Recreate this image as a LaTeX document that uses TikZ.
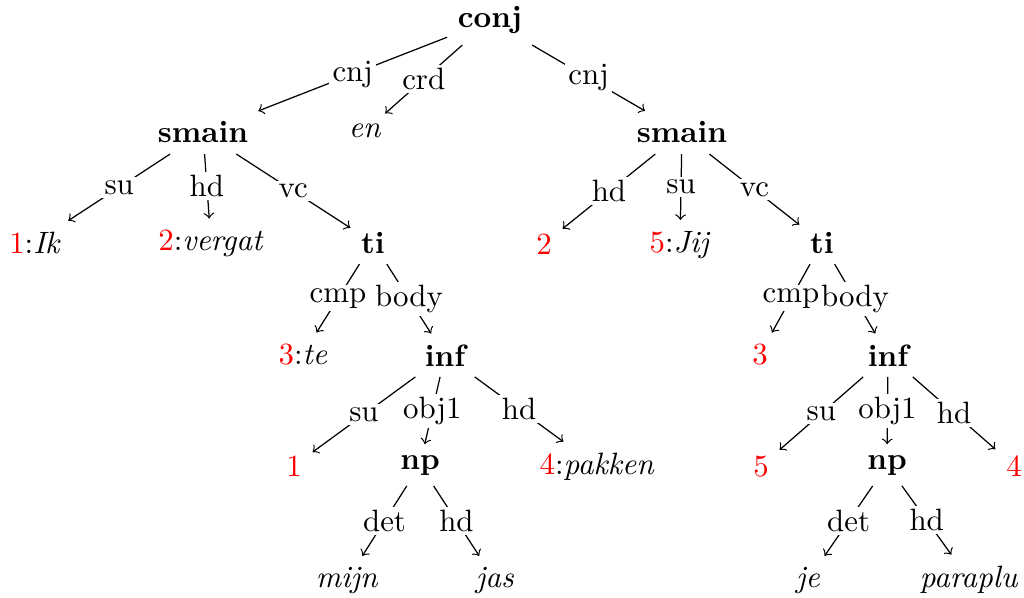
\documentclass[tikz,border=0pt]{standalone}
\usepackage{xcolor}
\begin{document}
\newcommand{\ix}[1]{\textcolor{red}{#1}}
\begin{tikzpicture}[
  x=0.324pt, y=-0.324pt,
  cat/.style={font=\bfseries, anchor=base},
  leaf/.style={anchor=base},
  lbl/.style={fill=white, inner sep=1pt, midway},
  dep/.style={->, line width=0.4pt}
]
\useasboundingbox (0,0) rectangle (1024,598);

% phrasal categories and words, placed on their baselines
\node[cat]  (conj)   at (490,28)  {conj};
\node[cat]  (smainL) at (203,143) {smain};
\node[leaf] (en)     at (365,138) {\textit{en}};
\node[cat]  (smainR) at (682,143) {smain};

\node[leaf] (ik)     at (35,253)  {\ix{1}:\textit{Ik}};
\node[leaf] (vergat) at (211,250) {\ix{2}:\textit{vergat}};
\node[cat]  (tiL)    at (373,253) {ti};

\node[leaf] (twoR)   at (544,254) {\ix{2}};
\node[leaf] (jij)    at (680,252) {\ix{5}:\textit{Jij}};
\node[cat]  (tiR)    at (822,253) {ti};

\node[leaf] (te)     at (303,364) {\ix{3}:\textit{te}};
\node[cat]  (infL)   at (445,366) {inf};
\node[leaf] (threeR) at (760,364) {\ix{3}};
\node[cat]  (infR)   at (888,366) {inf};

\node[leaf] (oneL)   at (294,476) {\ix{1}};
\node[cat]  (npL)    at (420,469) {np};
\node[leaf] (pakken) at (597,474) {\ix{4}:\textit{pakken}};
\node[leaf] (fiveR)  at (761,476) {\ix{5}};
\node[cat]  (npR)    at (887,469) {np};
\node[leaf] (fourR)  at (1014,476) {\ix{4}};

\node[leaf] (mijn)    at (347,587) {\textit{mijn}};
\node[leaf] (jas)     at (495,587) {\textit{jas}};
\node[leaf] (je)      at (808,587) {\textit{je}};
\node[leaf] (paraplu) at (969,587) {\textit{paraplu}};

% labelled dependency arcs
\draw[dep] (conj) -- node[lbl]{cnj} (smainL);
\draw[dep] (conj) -- node[lbl]{crd} (en);
\draw[dep] (conj) -- node[lbl]{cnj} (smainR);

\draw[dep] (smainL) -- node[lbl]{su} (ik);
\draw[dep] (smainL) -- node[lbl]{hd} (vergat);
\draw[dep] (smainL) -- node[lbl]{vc} (tiL);
\draw[dep] (tiL) -- node[lbl]{cmp} (te);
\draw[dep] (tiL) -- node[lbl]{body} (infL);
\draw[dep] (infL) -- node[lbl]{su} (oneL);
\draw[dep] (infL) -- node[lbl]{obj1} (npL);
\draw[dep] (infL) -- node[lbl]{hd} (pakken);
\draw[dep] (npL) -- node[lbl]{det} (mijn);
\draw[dep] (npL) -- node[lbl]{hd} (jas);

\draw[dep] (smainR) -- node[lbl]{hd} (twoR);
\draw[dep] (smainR) -- node[lbl]{su} (jij);
\draw[dep] (smainR) -- node[lbl]{vc} (tiR);
\draw[dep] (tiR) -- node[lbl]{cmp} (threeR);
\draw[dep] (tiR) -- node[lbl]{body} (infR);
\draw[dep] (infR) -- node[lbl]{su} (fiveR);
\draw[dep] (infR) -- node[lbl]{obj1} (npR);
\draw[dep] (infR) -- node[lbl]{hd} (fourR);
\draw[dep] (npR) -- node[lbl]{det} (je);
\draw[dep] (npR) -- node[lbl]{hd} (paraplu);
\end{tikzpicture}
\end{document}
